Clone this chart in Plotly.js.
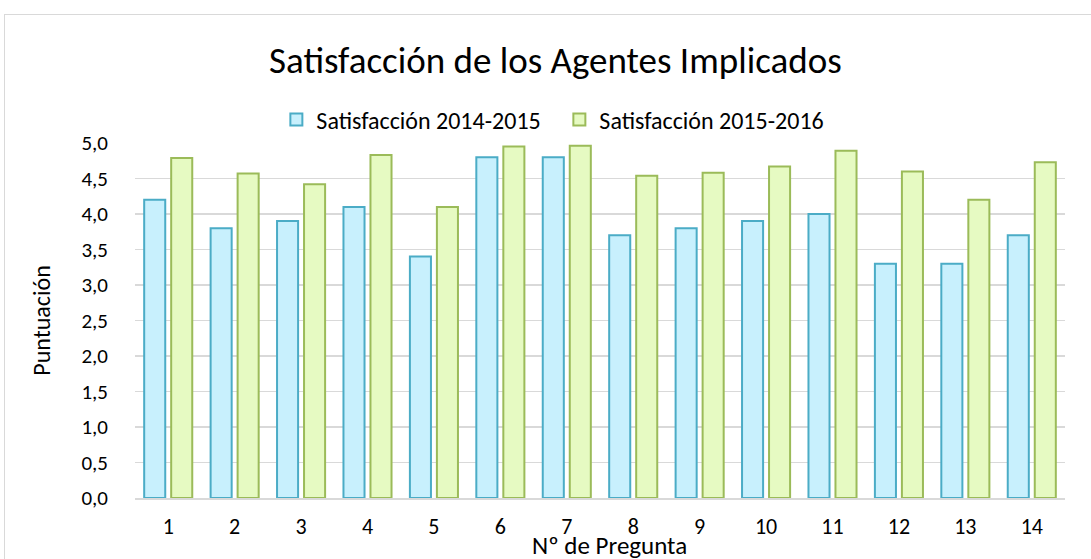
<!DOCTYPE html>
<html>
<head>
<meta charset="utf-8">
<script src="https://cdn.plot.ly/plotly-3.0.1.min.js"></script>
<style>
html,body{margin:0;padding:0;background:#fff;}
#wrap{position:absolute;left:0;top:0;width:1091px;height:559px;}
#frame{position:absolute;left:4px;top:14px;width:1100px;height:560px;border:1px solid #d9d9d9;box-sizing:border-box;pointer-events:none;}
#chart{position:absolute;left:0;top:0;width:1091px;height:559px;}
</style>
</head>
<body>
<div id="wrap"><div id="chart"></div><div id="frame"></div></div>
<script>
var categories = ['1','2','3','4','5','6','7','8','9','10','11','12','13','14'];
var sat2014 = [4.2, 3.8, 3.9, 4.1, 3.4, 4.8, 4.8, 3.7, 3.8, 3.9, 4.0, 3.3, 3.3, 3.7];
var sat2015 = [4.79, 4.57, 4.42, 4.83, 4.10, 4.95, 4.96, 4.54, 4.58, 4.67, 4.89, 4.60, 4.20, 4.73];
var seriesNames = ['Satisfacción 2014-2015', 'Satisfacción 2015-2016'];
var yTicks = [0, 0.5, 1, 1.5, 2, 2.5, 3, 3.5, 4, 4.5, 5];
var xTitle = 'Nº de Pregunta';

var FONT = 'Carlito, Calibri, Lato, sans-serif';

var traces = [
  {type:'bar', name:seriesNames[0], x:categories, y:sat2014,
   marker:{color:'#c8f0fd', line:{color:'#4bacc6', width:2}}},
  {type:'bar', name:seriesNames[1], x:categories, y:sat2015,
   marker:{color:'#e6fac2', line:{color:'#9bbb59', width:2}}}
];

var layout = {
  width:1091, height:559,
  margin:{l:135, r:26, t:143, b:61},
  paper_bgcolor:'rgba(0,0,0,0)', plot_bgcolor:'#fff',
  separators:',.',
  font:{family:FONT, color:'#000', size:20},
  title:{text:'Satisfacción de los Agentes Implicados', font:{family:FONT, size:37, color:'#000'},
         x:0.509, xanchor:'center', y:0.893, yanchor:'middle'},
  showlegend:true,
  legend:{orientation:'h', x:0.152, xanchor:'left', y:1.065, yanchor:'middle',
          font:{family:FONT, size:24}, itemwidth:30, entrywidth:238, entrywidthmode:'pixels',
          traceorder:'normal', tracegroupgap:0},
  barmode:'group', bargap:0.187, bargroupgap:0.22,
  xaxis:{type:'category', tickfont:{family:FONT, size:22}, ticklabelstandoff:8,
         showgrid:false, showline:true, linecolor:'#d9d9d9', linewidth:1.5, ticks:''},
  yaxis:{range:[0,5], tickvals:yTicks, tickformat:'.1f', tickfont:{family:FONT, size:21},
         ticklabelstandoff:26, showgrid:true, gridcolor:'#d9d9d9', gridwidth:1.5,
         zeroline:false, showline:false, ticks:'',
         title:{text:'Puntuación', font:{family:FONT, size:24}, standoff:24}},
  annotations:[{text:xTitle, xref:'paper', yref:'paper', x:0.51, y:-0.134,
                xanchor:'center', yanchor:'middle', showarrow:false,
                font:{family:FONT, size:25, color:'#000'}}]
};

Plotly.newPlot('chart', traces, layout, {displayModeBar:false, staticPlot:true});
</script>
</body>
</html>
